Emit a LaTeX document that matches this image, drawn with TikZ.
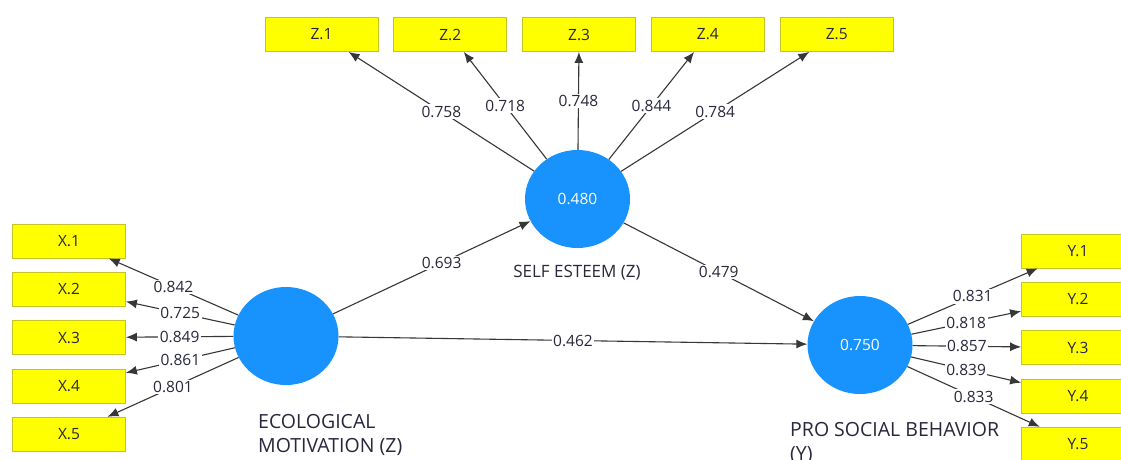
\documentclass[tikz,border=0pt]{standalone}
\usepackage{fontspec}
\setmainfont{Open Sans}
\usetikzlibrary{arrows.meta, positioning, shapes.geometric}
\definecolor{lvblue}{RGB}{24,146,252}
\definecolor{indyellow}{RGB}{255,255,0}
\definecolor{indedge}{RGB}{196,196,40}
\definecolor{pathgray}{RGB}{55,55,55}
\definecolor{txtgray}{RGB}{40,40,60}

\begin{document}
\begin{tikzpicture}[
  x=1pt, y=-1pt,
  indicator/.style={
    rectangle, fill=indyellow, draw=indedge, line width=0.8pt,
    minimum width=113pt, minimum height=34pt, inner sep=0pt,
    font=\fontsize{15.5}{18}\selectfont, text=txtgray
  },
  latent/.style={
    ellipse, fill=lvblue, minimum width=105pt, minimum height=98pt,
    inner sep=0pt, text=white, font=\fontsize{15.5}{18}\selectfont
  },
  link/.style={draw=pathgray, line width=1.1pt, -{Latex[length=11pt,width=9pt]}},
  coef/.style={fill=white, inner sep=1.5pt, text=txtgray,
    font=\fontsize{15.5}{18}\selectfont},
  caption/.style={font=\fontsize{19.5}{24}\selectfont, text=txtgray, inner sep=0pt}
]
  \useasboundingbox (0,0) rectangle (1121,459);
  \clip (0,0) rectangle (1121,459);
  \fill[white] (0,0) rectangle (1121,459);

  % Latent variables
  \node[latent] (em)  at (286,336)   {};
  \node[latent] (se)  at (577.5,199) {0.480};
  \node[latent] (psb) at (860,345)   {0.750};

  \node[caption, anchor=north west, align=left] (emlab) at (258,414)
        {ECOLOGICAL\\MOTIVATION (Z)};
  \node[caption, font=\fontsize{17}{20}\selectfont] (selab) at (577,273)
        {SELF ESTEEM (Z)};
  \node[caption, anchor=north west, align=left] (psblab) at (790,422)
        {PRO SOCIAL BEHAVIOR\\(Y)};

  % Indicators of ecological motivation
  \node[indicator] (x1) at (69,241) {X.1};
  \node[indicator, below=13.5pt of x1] (x2) {X.2};
  \node[indicator, below=13.5pt of x2] (x3) {X.3};
  \node[indicator, below=13.5pt of x3] (x4) {X.4};
  \node[indicator, below=13.5pt of x4] (x5) {X.5};

  % Indicators of self esteem
  \node[indicator] (z1) at (321.5,34.5) {Z.1};
  \node[indicator, right=15pt of z1] (z2) {Z.2};
  \node[indicator, right=15pt of z2] (z3) {Z.3};
  \node[indicator, right=15pt of z3] (z4) {Z.4};
  \node[indicator, right=15pt of z4] (z5) {Z.5};

  % Indicators of pro social behavior
  \node[indicator] (y1) at (1078,251) {Y.1};
  \node[indicator, below=13.5pt of y1] (y2) {Y.2};
  \node[indicator, below=13.5pt of y2] (y3) {Y.3};
  \node[indicator, below=13.5pt of y3] (y4) {Y.4};
  \node[indicator, below=13.5pt of y4] (y5) {Y.5};

  % Outer loadings
  \draw[link] (em) -- node[coef] {0.842} (x1);
  \draw[link] (em) -- node[coef] {0.725} (x2);
  \draw[link] (em) -- node[coef] {0.849} (x3);
  \draw[link] (em) -- node[coef] {0.861} (x4);
  \draw[link] (em) -- node[coef] {0.801} (x5);

  \draw[link] (se) -- node[coef] {0.758} (z1);
  \draw[link] (se) -- node[coef] {0.718} (z2);
  \draw[link] (se) -- node[coef] {0.748} (z3);
  \draw[link] (se) -- node[coef] {0.844} (z4);
  \draw[link] (se) -- node[coef] {0.784} (z5);

  \draw[link] (psb) -- node[coef] {0.831} (y1);
  \draw[link] (psb) -- node[coef] {0.818} (y2);
  \draw[link] (psb) -- node[coef] {0.857} (y3);
  \draw[link] (psb) -- node[coef] {0.839} (y4);
  \draw[link] (psb) -- node[coef] {0.833} (y5);

  % Path coefficients
  \draw[link] (em) -- node[coef, pos=0.55] {0.693} (se);
  \draw[link] (se) -- node[coef] {0.479} (psb);
  \draw[link] (em) -- node[coef] {0.462} (psb);
\end{tikzpicture}
\end{document}
